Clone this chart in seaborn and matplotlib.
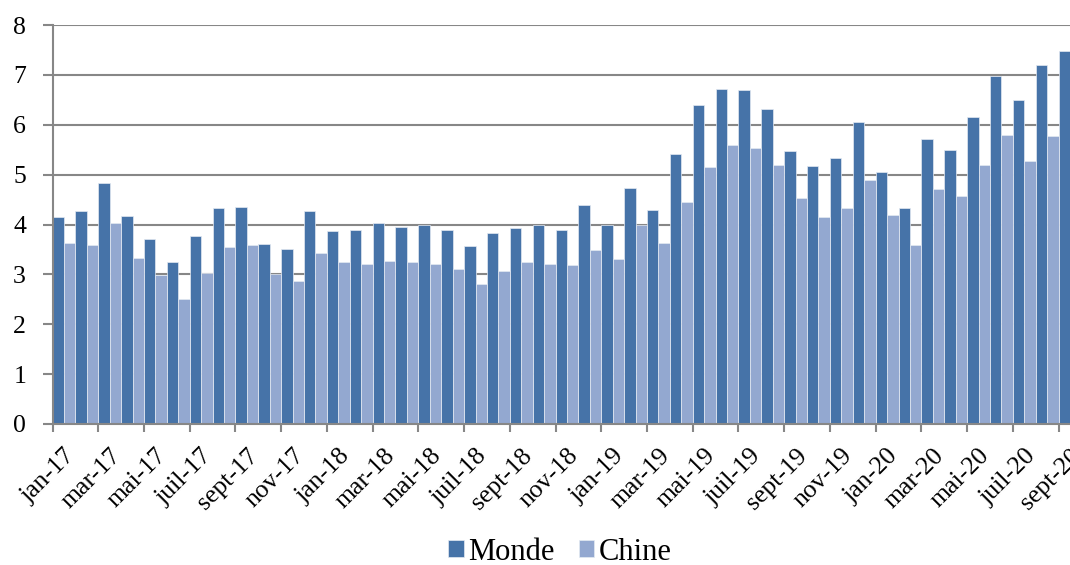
import numpy as np
import pandas as pd
import matplotlib
matplotlib.use("Agg")
import matplotlib.pyplot as plt
import seaborn as sns

# Month labels (French abbreviations), Jan 2017 to Sept 2020
month_abbr = ["jan", "févr", "mar", "avr", "mai", "juin",
              "juil", "août", "sept", "oct", "nov", "déc"]
months = [f"{m}-{y}" for y in ["17", "18", "19"] for m in month_abbr] + \
         [f"{m}-20" for m in month_abbr[:9]]

# Monthly values for each series
monde = [4.16, 4.28, 4.84, 4.18, 3.71, 3.24, 3.77, 4.34, 4.36, 3.60, 3.51, 4.28,
         3.86, 3.89, 4.04, 3.95, 4.00, 3.89, 3.57, 3.83, 3.92, 3.98, 3.89, 4.39,
         4.00, 4.74, 4.30, 5.42, 6.40, 6.72, 6.69, 6.31, 5.48, 5.18, 5.33, 6.05,
         5.06, 4.34, 5.72, 5.50, 6.16, 6.98, 6.49, 7.19, 7.48]
chine = [3.62, 3.59, 4.04, 3.33, 2.99, 2.50, 3.03, 3.54, 3.59, 3.01, 2.86, 3.42,
         3.24, 3.21, 3.27, 3.24, 3.21, 3.10, 2.81, 3.07, 3.24, 3.21, 3.18, 3.48,
         3.30, 3.98, 3.62, 4.46, 5.16, 5.60, 5.54, 5.19, 4.54, 4.15, 4.34, 4.90,
         4.19, 3.59, 4.72, 4.57, 5.19, 5.80, 5.28, 5.78, np.nan]

series_names = ["Monde", "Chine"]
colors = ["#4673A8", "#93A8D0"]

df = pd.DataFrame({
    "mois": months * 2,
    "valeur": monde + chine,
    "serie": [series_names[0]] * len(months) + [series_names[1]] * len(months),
})

sns.set_style("white")
plt.rcParams["font.family"] = ["Liberation Serif", "DejaVu Serif"]
plt.rcParams["text.color"] = "black"
plt.rcParams["xtick.color"] = "black"
plt.rcParams["ytick.color"] = "black"

fig = plt.figure(figsize=(10.7, 5.65), dpi=100)
ax = fig.add_axes([52.5 / 1070, 1 - 424 / 565, 1 - 52.5 / 1070, (424 - 25) / 565])

sns.barplot(data=df, x="mois", y="valeur", hue="serie", order=months,
            hue_order=series_names, palette=colors, saturation=1,
            width=1.0, gap=0, edgecolor="#e4eaf2", linewidth=0.5,
            ax=ax, zorder=3)

grid_c = "#878787"
ax.set_ylim(0, 8)
ax.set_yticks(range(0, 9))
ax.yaxis.grid(True, color=grid_c, linewidth=1.5, zorder=0)
ax.xaxis.grid(False)
ax.set_axisbelow(True)
ax.set_xlim(-0.5, len(months) - 1)

for side in ["top", "right"]:
    ax.spines[side].set_visible(False)
for side in ["left", "bottom"]:
    ax.spines[side].set_color(grid_c)
    ax.spines[side].set_linewidth(1.5)
    ax.spines[side].set_zorder(4)

ax.tick_params(axis="y", which="major", length=7, width=1.5, color=grid_c,
               labelcolor="black", labelsize=18.5, pad=12, left=True)

# Labels on every other month, boundary tick marks every two months
label_pos = list(range(0, len(months), 2))
ax.set_xticks(label_pos)
ax.set_xticklabels([months[i] for i in label_pos], rotation=45, ha="right",
                   rotation_mode="anchor", fontsize=18.5, color="black")
ax.tick_params(axis="x", which="major", length=0, pad=15)
ax.set_xticks([p - 0.5 for p in label_pos], minor=True)
ax.tick_params(axis="x", which="minor", length=6, width=1.5, color=grid_c,
               bottom=True)

ax.set_xlabel("")
ax.set_ylabel("")

sns.move_legend(ax, "center", bbox_to_anchor=(560 / 1070, 1 - 552 / 565),
                bbox_transform=fig.transFigure, ncol=2, frameon=False,
                title=None, fontsize=22, handlelength=0.5, handleheight=0.5,
                handletextpad=0.15, columnspacing=0.8, borderaxespad=0.0,
                borderpad=0.0)

fig.savefig("out.png", dpi=100)
